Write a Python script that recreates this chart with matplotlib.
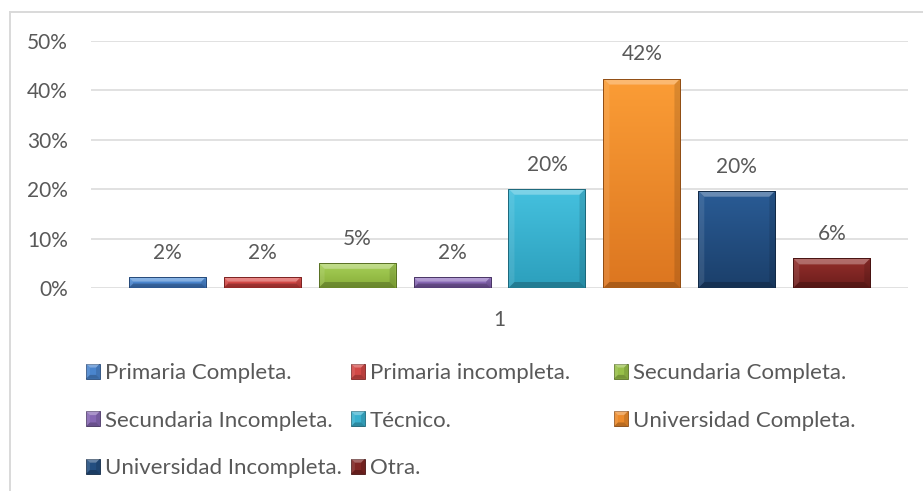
import numpy as np
import matplotlib
matplotlib.use("Agg")
import matplotlib.pyplot as plt
from matplotlib.patches import Polygon, Rectangle
from matplotlib.legend_handler import HandlerBase
from matplotlib.lines import Line2D
from matplotlib.colors import LinearSegmentedColormap, to_rgb

# ---- data -------------------------------------------------------------
categories = ["1"]
series_names = [
    "Primaria Completa.", "Primaria incompleta.", "Secundaria Completa.",
    "Secundaria Incompleta.", "Técnico.", "Universidad Completa.",
    "Universidad Incompleta.", "Otra.",
]
values = [0.022, 0.022, 0.051, 0.022, 0.201, 0.424, 0.197, 0.060]
y_ticks = [0.0, 0.1, 0.2, 0.3, 0.4, 0.5]

# gradient colours (top -> bottom) for each series
top_colors = ["#5a9ae2", "#e65a57", "#a9d25a", "#9b7bcb",
              "#45c1df", "#fb9d36", "#2a5c96", "#942f2c"]
bottom_colors = ["#3a70b8", "#bd3634", "#87ad38", "#71529a",
                 "#2c9fbc", "#dc7620", "#1b3f6a", "#6c1d1b"]

TEXT = "#595959"
GRID = "#d9d9d9"
plt.rcParams["font.family"] = ["Lato", "DejaVu Sans"]

W, H, DPI = 923, 491, 100
fig = plt.figure(figsize=(W / DPI, H / DPI), dpi=DPI)
ax_l, ax_b, ax_w, ax_h = 91, 203, 817, 247  # pixels
ax = fig.add_axes([ax_l / W, ax_b / H, ax_w / W, ax_h / H])

x_lim = (-0.5, 0.5)
y_lim = (0.0, 0.5)
px_per_x = ax_w / (x_lim[1] - x_lim[0])
px_per_y = ax_h / (y_lim[1] - y_lim[0])

n = len(values)
step = 0.1162
bar_w = 0.0943
xs = (np.arange(n) - (n - 1) / 2) * step


def mix(c1, c2, t):
    a, b = np.array(to_rgb(c1)), np.array(to_rgb(c2))
    return tuple(a + (b - a) * t)


def bevel_polys(x, y, w, h, bx, by):
    top = [(x, y + h), (x + w, y + h), (x + w - bx, y + h - by), (x + bx, y + h - by)]
    bottom = [(x, y), (x + w, y), (x + w - bx, y + by), (x + bx, y + by)]
    left = [(x, y), (x, y + h), (x + bx, y + h - by), (x + bx, y + by)]
    right = [(x + w, y), (x + w, y + h), (x + w - bx, y + h - by), (x + w - bx, y + by)]
    return [(top, "white", 0.30), (bottom, "black", 0.22),
            (left, "white", 0.10), (right, "black", 0.12)]


grad = np.linspace(0, 1, 128)[:, None]
for i in range(n):
    mid = mix(top_colors[i], bottom_colors[i], 0.5)
    edge = mix(bottom_colors[i], "black", 0.35)
    bars = ax.bar(xs[i], values[i], bar_w, color=mid, linewidth=0, zorder=3)
    patch = bars.patches[0]
    x0, y0 = patch.get_x(), patch.get_y()
    w, h = patch.get_width(), patch.get_height()
    cmap = LinearSegmentedColormap.from_list(f"g{i}", [top_colors[i], bottom_colors[i]])
    im = ax.imshow(grad, cmap=cmap, extent=(x0, x0 + w, y0, y0 + h),
                   origin="upper", aspect="auto", interpolation="bilinear", zorder=3.1)
    im.set_clip_path(patch)
    bev_px = min(6.0, h * px_per_y / 2 - 1.0)
    for pts, col, alpha in bevel_polys(x0, y0, w, h, bev_px / px_per_x, bev_px / px_per_y):
        ax.add_patch(Polygon(pts, closed=True, facecolor=col, alpha=alpha,
                             linewidth=0, zorder=3.2))
    ax.add_patch(Rectangle((x0, y0), w, h, fill=False, edgecolor=edge,
                           linewidth=0.7, zorder=3.3))
    ax.annotate(f"{values[i]:.0%}", (xs[i], values[i]), xytext=(0, 13),
                textcoords="offset points", ha="center", va="baseline",
                fontsize=15, color=TEXT)

ax.set_xlim(*x_lim)
ax.set_ylim(*y_lim)
ax.set_yticks(y_ticks)
ax.set_yticklabels([f"{t:.0%}" for t in y_ticks])
ax.set_xticks([0])
ax.set_xticklabels(categories)
ax.tick_params(axis="y", length=0, pad=16.5, labelsize=15, labelcolor=TEXT)
ax.tick_params(axis="x", length=0, pad=15.5, labelsize=15, labelcolor=TEXT)
for s in ax.spines.values():
    s.set_visible(False)
ax.grid(axis="y", color=GRID, linewidth=1.1)
ax.set_axisbelow(True)


class BevelHandler(HandlerBase):
    def __init__(self, top, bottom):
        super().__init__()
        self.top, self.bottom = top, bottom

    def create_artists(self, legend, orig_handle, xdescent, ydescent,
                       width, height, fontsize, trans):
        x, y = -xdescent, -ydescent
        mid = mix(self.top, self.bottom, 0.5)
        edge = mix(self.bottom, "black", 0.35)
        arts = [Rectangle((x, y), width, height, facecolor=mid, edgecolor=edge,
                          linewidth=0.6, transform=trans)]
        b = min(width, height) * 0.28
        for pts, col, alpha in bevel_polys(x, y, width, height, b, b):
            arts.append(Polygon(pts, closed=True, facecolor=col, alpha=alpha,
                                linewidth=0, transform=trans))
        return arts


proxies = [Rectangle((0, 0), 1, 1) for _ in range(n)]
leg_fs = 16
fs_px = leg_fs * DPI / 72
columns = [[0, 3, 6], [1, 4, 7], [2, 5]]
col_x = [86, 351, 614]
for idx, cx in zip(columns, col_x):
    fig.legend([proxies[k] for k in idx], [series_names[k] for k in idx],
               handler_map={proxies[k]: BevelHandler(top_colors[k], bottom_colors[k]) for k in idx},
               loc="upper left", bbox_to_anchor=(cx / W, 1 - 363 / H),
               bbox_transform=fig.transFigure, frameon=False, fontsize=leg_fs,
               labelcolor=TEXT, borderpad=0, borderaxespad=0,
               handlelength=14 / fs_px, handleheight=15 / fs_px,
               handletextpad=5 / fs_px, labelspacing=1.24)

# chart area border (left and top edges)
fig.add_artist(Line2D([10 / W, 10 / W], [0, 1 - 11.5 / H], transform=fig.transFigure,
                      color=GRID, linewidth=1.4))
fig.add_artist(Line2D([10 / W, 1], [1 - 11.5 / H, 1 - 11.5 / H], transform=fig.transFigure,
                      color=GRID, linewidth=1.4))

fig.savefig("out.png", dpi=DPI)
